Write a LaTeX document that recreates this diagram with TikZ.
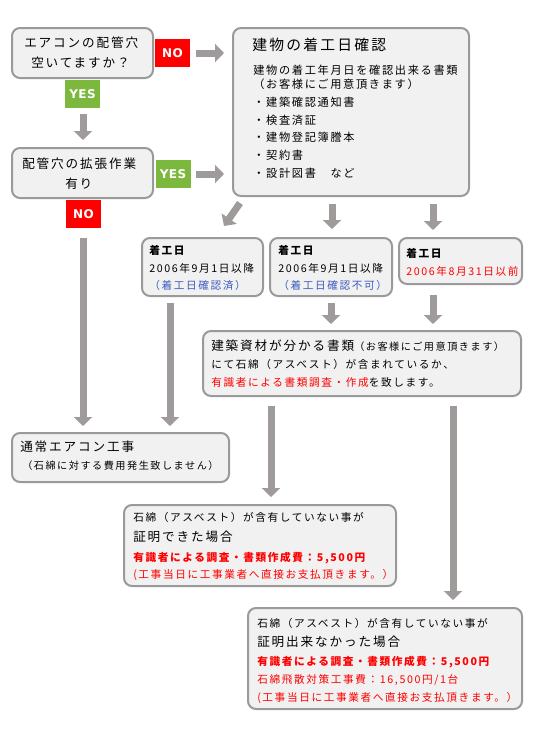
\documentclass[tikz,border=0pt]{standalone}
\usepackage{fontspec}
\setmainfont{Noto Sans CJK JP}[LetterSpace=15]
\newfontfamily\tagfont{DejaVu Sans}[LetterSpace=4]
\usetikzlibrary{arrows.meta}
\definecolor{boxline}{HTML}{9A9A9A}
\definecolor{boxfill}{HTML}{F1F1F1}
\definecolor{arrowgray}{HTML}{A09B9B}
\definecolor{tagred}{HTML}{FF0000}
\definecolor{taggreen}{HTML}{7CB83E}
\definecolor{txtred}{HTML}{FF0000}
\definecolor{txtblue}{HTML}{3C5BC0}
\newcommand\szA{\fontsize{9.45pt}{11pt}\selectfont}
\newcommand\szT{\fontsize{11.1pt}{13pt}\selectfont}
\newcommand\szB{\fontsize{8.4pt}{10pt}\selectfont}
\newcommand\szC{\fontsize{8.0pt}{10pt}\selectfont}
\newcommand\szD{\fontsize{7.6pt}{9pt}\selectfont}
\tikzset{
  x=0.75pt, y=-0.75pt,
  box/.style 2 args={draw=boxline, line width=1.5pt, fill=boxfill, rounded corners=6pt,
    inner sep=0pt, minimum width=#1*0.75pt, minimum height=#2*0.75pt},
  tag/.style={inner sep=0pt, minimum width=35*0.75pt, minimum height=28*0.75pt,
    text=white, font=\tagfont\bfseries\fontsize{9pt}{10pt}\selectfont},
  notag/.style={tag, fill=tagred},
  yestag/.style={tag, fill=taggreen},
  barrow/.style={draw=arrowgray, line width=5.25pt,
    -{Triangle[width=13.5pt, length=6.75pt]}, arrowgray},
  ln/.style={anchor=base west, inner sep=0pt},
}
\begin{document}
\begin{tikzpicture}
\fill[white] (0,0) rectangle (533,736);
\useasboundingbox (0,0) rectangle (533,736);

% boxes
\node[box={141}{50}] (b1) at (82.5,53) {};
\node[box={141}{50}] (b2) at (82.5,173) {};
\node[box={236}{168}] (b3) at (351,112) {};
\node[box={121}{58}] (b4) at (202.5,267) {};
\node[box={122}{58}] (b5) at (331,267) {};
\node[box={123}{46}] (b6) at (460.5,261) {};
\node[box={318}{65}] (b7) at (362,363.5) {};
\node[box={217}{49}] (b8) at (120.5,457.5) {};
\node[box={272}{81}] (b9) at (260,545.5) {};
\node[box={274}{101}] (b10) at (385,658.5) {};

% tags
\node[notag] (no1) at (172.5,53) {NO};
\node[yestag] (yes1) at (82.5,94) {YES};
\node[yestag] (yes2) at (173,174) {YES};
\node[notag] (no2) at (83.5,214) {NO};

% arrow end points
\coordinate (a1s) at (196,53);  \coordinate (a1e) at (224,53);
\coordinate (a2s) at (83,114);  \coordinate (a2e) at (83,140);
\coordinate (a3s) at (196,174); \coordinate (a3e) at (224,174);
\coordinate (a4s) at (240,203); \coordinate (a4e) at (224,226);
\coordinate (a5s) at (332,204); \coordinate (a5e) at (332,229);
\coordinate (a6s) at (433,204); \coordinate (a6e) at (433,230);
\coordinate (a7s) at (83,238);  \coordinate (a7e) at (83,426);
\coordinate (a8s) at (170,303); \coordinate (a8e) at (170,426);
\coordinate (a9s) at (331,303); \coordinate (a9e) at (331,324);
\coordinate (a10s) at (433,295); \coordinate (a10e) at (433,324);
\coordinate (a11s) at (271,406); \coordinate (a11e) at (271,497);
\coordinate (a12s) at (453,406); \coordinate (a12e) at (453,600);
\foreach \i in {1,...,12} { \draw[barrow] (a\i s) -- (a\i e); }

% box 1, 2
\node[ln, font=\szA] (t1a) at (24,47.8) {エアコンの配管穴};
\node[ln, font=\szA] (t1b) at (31,67.8) {空いてますか？};
\node[ln, font=\szA] (t2a) at (22,168.8) {配管穴の拡張作業};
\node[ln, font=\szA] (t2b) at (65,188.8) {有り};

% box 3
\node[ln, font=\szT] (t3t) at (252,50.7) {建物の着工日確認};
\node[ln, font=\szB] (t3a) at (253,74.2) {建物の着工年月日を確認出来る書類};
\node[ln, font=\szB] (t3b) at (253,88.2) {（お客様にご用意頂きます）};
\node[ln, font=\szB] (t3c) at (253,106.2) {・建築確認通知書};
\node[ln, font=\szB] (t3d) at (253,124.2) {・検査済証};
\node[ln, font=\szB] (t3e) at (253,141.2) {・建物登記簿謄本};
\node[ln, font=\szB] (t3f) at (253,159.2) {・契約書};
\node[ln, font=\szB] (t3g) at (253,177.2) {・設計図書　など};

% boxes 4-6
\node[ln, font=\szC\bfseries] (t4a) at (149,254) {着工日};
\node[ln, font=\szC] (t4b) at (149,272) {2006年9月1日以降};
\node[ln, font=\szC, text=txtblue] (t4c) at (149,289) {（着工日確認済）};
\node[ln, font=\szC\bfseries] (t5a) at (278,254) {着工日};
\node[ln, font=\szC] (t5b) at (278,272) {2006年9月1日以降};
\node[ln, font=\szC, text=txtblue] (t5c) at (278,289) {（着工日確認不可）};
\node[ln, font=\szC\bfseries] (t6a) at (406,257) {着工日};
\node[ln, font=\szC, text=txtred] (t6b) at (406,275) {2006年8月31日以前};

% box 7
\node[ln] (t7a) at (211,350) {{\szA 建築資材が分かる書類}{\szD （お客様にご用意頂きます）}};
\node[ln, font=\szC] (t7b) at (211,368) {にて石綿（アスベスト）が含まれているか、};
\node[ln, font=\szC] (t7c) at (211,386) {\textcolor{txtred}{有識者による書類調査・作成}を致します。};

% box 8
\node[ln, font=\szA] (t8a) at (20,451) {通常エアコン工事};
\node[ln, font=\szD] (t8b) at (22,469) {（石綿に対する費用発生致しません）};

% box 9
\node[ln, font=\szC] (t9a) at (133,521) {石綿（アスベスト）が含有していない事が};
\node[ln, font=\szA] (t9b) at (133,541) {証明できた場合};
\node[ln, font=\szC\bfseries, text=txtred] (t9c) at (133,561) {有識者による調査・書類作成費：5,500円};
\node[ln, font=\szC, text=txtred] (t9d) at (133,578) {(工事当日に工事業者へ直接お支払頂きます。）};

% box 10
\node[ln, font=\szC] (t10a) at (257,627) {石綿（アスベスト）が含有していない事が};
\node[ln, font=\szA] (t10b) at (257,646) {証明出来なかった場合};
\node[ln, font=\szC\bfseries, text=txtred] (t10c) at (257,665) {有識者による調査・書類作成費：5,500円};
\node[ln, font=\szC, text=txtred] (t10d) at (257,683) {石綿飛散対策工事費：16,500円/1台};
\node[ln, font=\szC, text=txtred] (t10e) at (257,701) {(工事当日に工事業者へ直接お支払頂きます。）};
\end{tikzpicture}
\end{document}
